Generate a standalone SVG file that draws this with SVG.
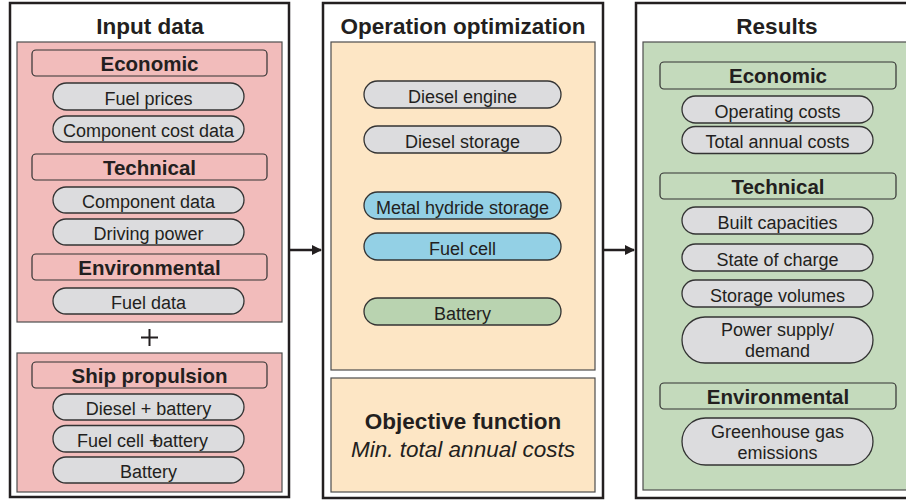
<svg xmlns="http://www.w3.org/2000/svg" width="906" height="503" viewBox="0 0 906 503">
  <style>
    .frame { fill: #ffffff; stroke: #231f20; stroke-width: 2.5; }
    .panel { stroke: #4d4d4d; stroke-width: 1.2; }
    .pink { fill: #f2bcbb; }
    .peach { fill: #fde6c5; }
    .sage { fill: #c4dabc; }
    .head { stroke: #333; stroke-width: 1.2; }
    .pill { fill: #dcdcde; stroke: #333; stroke-width: 1.3; }
    .blue { fill: #93d0e5; }
    .green { fill: #b9d3b0; }
    text { font-family: "Liberation Sans", Arial, sans-serif; fill: #231f20; text-anchor: middle; }
    .title { font-size: 22.5px; font-weight: bold; }
    .htxt { font-size: 20.5px; font-weight: bold; }
    .ptxt { font-size: 18px; }
    .conn { stroke: #231f20; stroke-width: 2.5; fill: none; }
  </style>
  <defs>
    <marker id="arrow" viewBox="0 0 10 10" refX="9" refY="5" markerWidth="4.4" markerHeight="4" markerUnits="strokeWidth" orient="auto">
      <path d="M0,0 L10,5 L0,10 z" fill="#231f20"/>
    </marker>
  </defs>

  <!-- Input data column -->
  <g id="input-data">
    <rect class="frame" x="10" y="3" width="279" height="494"/>
    <text class="title" x="150" y="34">Input data</text>
    <rect class="panel pink" x="17" y="42" width="265" height="280"/>
    <rect class="head pink" x="32" y="50" width="235" height="26" rx="4"/>
    <text class="htxt" x="149.5" y="70.5">Economic</text>
    <rect class="pill" x="53" y="83" width="191" height="27" rx="13.5"/>
    <text class="ptxt" x="148.5" y="104.5">Fuel prices</text>
    <rect class="pill" x="53" y="116" width="191" height="26" rx="13"/>
    <text class="ptxt" x="148.5" y="137">Component cost data</text>
    <rect class="head pink" x="32" y="154" width="235" height="26" rx="4"/>
    <text class="htxt" x="149.5" y="174.5">Technical</text>
    <rect class="pill" x="53" y="187" width="191" height="26" rx="13"/>
    <text class="ptxt" x="148.5" y="208">Component data</text>
    <rect class="pill" x="53" y="219" width="191" height="26" rx="13"/>
    <text class="ptxt" x="148.5" y="240">Driving power</text>
    <rect class="head pink" x="32" y="254" width="235" height="26" rx="4"/>
    <text class="htxt" x="149.5" y="274.5">Environmental</text>
    <rect class="pill" x="53" y="288" width="191" height="26" rx="13"/>
    <text class="ptxt" x="148.5" y="309">Fuel data</text>

    <!-- plus between the two input panels -->
    <path d="M141,337.5 H158 M149.5,329 V346" stroke="#231f20" stroke-width="2" fill="none"/>

    <rect class="panel pink" x="17" y="353" width="265" height="139"/>
    <rect class="head pink" x="32" y="362" width="235" height="26" rx="4"/>
    <text class="htxt" x="149.5" y="382.5">Ship propulsion</text>
    <rect class="pill" x="53" y="394" width="191" height="26" rx="13"/>
    <text class="ptxt" x="148.5" y="415">Diesel + battery</text>
    <rect class="pill" x="53" y="425.5" width="191" height="26.5" rx="13"/>
    <text class="ptxt" x="77" y="446.5" style="text-anchor:start">Fuel cell <tspan>+</tspan><tspan dx="-6.5">battery</tspan></text>
    <rect class="pill" x="53" y="457" width="191" height="26" rx="13"/>
    <text class="ptxt" x="148.5" y="478">Battery</text>
  </g>

  <!-- Operation optimization column -->
  <g id="operation-optimization">
    <rect class="frame" x="323" y="3" width="280" height="495"/>
    <text class="title" x="463" y="34">Operation optimization</text>
    <rect class="panel peach" x="331" y="42" width="264" height="328"/>
    <rect class="pill" x="364" y="81" width="197" height="27" rx="13.5"/>
    <text class="ptxt" x="462.5" y="102.5">Diesel engine</text>
    <rect class="pill" x="364" y="126" width="197" height="27" rx="13.5"/>
    <text class="ptxt" x="462.5" y="147.5">Diesel storage</text>
    <rect class="pill blue" x="364" y="192" width="197" height="27" rx="13.5"/>
    <text class="ptxt" x="462.5" y="213.5">Metal hydride storage</text>
    <rect class="pill blue" x="364" y="233" width="197" height="27" rx="13.5"/>
    <text class="ptxt" x="462.5" y="254.5">Fuel cell</text>
    <rect class="pill green" x="364" y="298" width="197" height="27" rx="13.5"/>
    <text class="ptxt" x="462.5" y="319.5">Battery</text>
  </g>

  <g id="objective-function">
    <rect class="panel peach" x="331" y="378" width="264" height="114"/>
    <text class="title" x="463" y="429">Objective function</text>
    <text x="463" y="457" style="font-size:22.5px;font-style:italic">Min. total annual costs</text>
  </g>

  <!-- Results column -->
  <g id="results">
    <rect class="frame" x="636" y="3" width="290" height="495"/>
    <text class="title" x="777" y="34">Results</text>
    <rect class="panel sage" x="643" y="42" width="280" height="448"/>
    <rect class="head sage" x="660" y="62" width="236" height="27" rx="4"/>
    <text class="htxt" x="778" y="83">Economic</text>
    <rect class="pill" x="682" y="96" width="191" height="27" rx="13.5"/>
    <text class="ptxt" x="777.5" y="117.5">Operating costs</text>
    <rect class="pill" x="682" y="126.5" width="191" height="27" rx="13.5"/>
    <text class="ptxt" x="777.5" y="148">Total annual costs</text>
    <rect class="head sage" x="660" y="173" width="236" height="26" rx="4"/>
    <text class="htxt" x="778" y="193.5">Technical</text>
    <rect class="pill" x="682" y="207" width="191" height="27" rx="13.5"/>
    <text class="ptxt" x="777.5" y="228.5">Built capacities</text>
    <rect class="pill" x="682" y="244" width="191" height="27" rx="13.5"/>
    <text class="ptxt" x="777.5" y="265.5">State of charge</text>
    <rect class="pill" x="682" y="280" width="191" height="27" rx="13.5"/>
    <text class="ptxt" x="777.5" y="301.5">Storage volumes</text>
    <rect class="pill" x="682" y="317" width="191" height="46" rx="23"/>
    <text class="ptxt" x="777.5" y="336">Power supply/</text>
    <text class="ptxt" x="777.5" y="357">demand</text>
    <rect class="head sage" x="660" y="383" width="236" height="26" rx="4"/>
    <text class="htxt" x="778" y="403.5">Environmental</text>
    <rect class="pill" x="682" y="418" width="191" height="47" rx="23.5"/>
    <text class="ptxt" x="777.5" y="437.5">Greenhouse gas</text>
    <text class="ptxt" x="777.5" y="458.5">emissions</text>
  </g>

  <!-- Flow between the columns -->
  <g id="connectors">
    <line class="conn" x1="290" y1="250" x2="321" y2="250" marker-end="url(#arrow)"/>
    <line class="conn" x1="604" y1="250" x2="634" y2="250" marker-end="url(#arrow)"/>
  </g>
</svg>
